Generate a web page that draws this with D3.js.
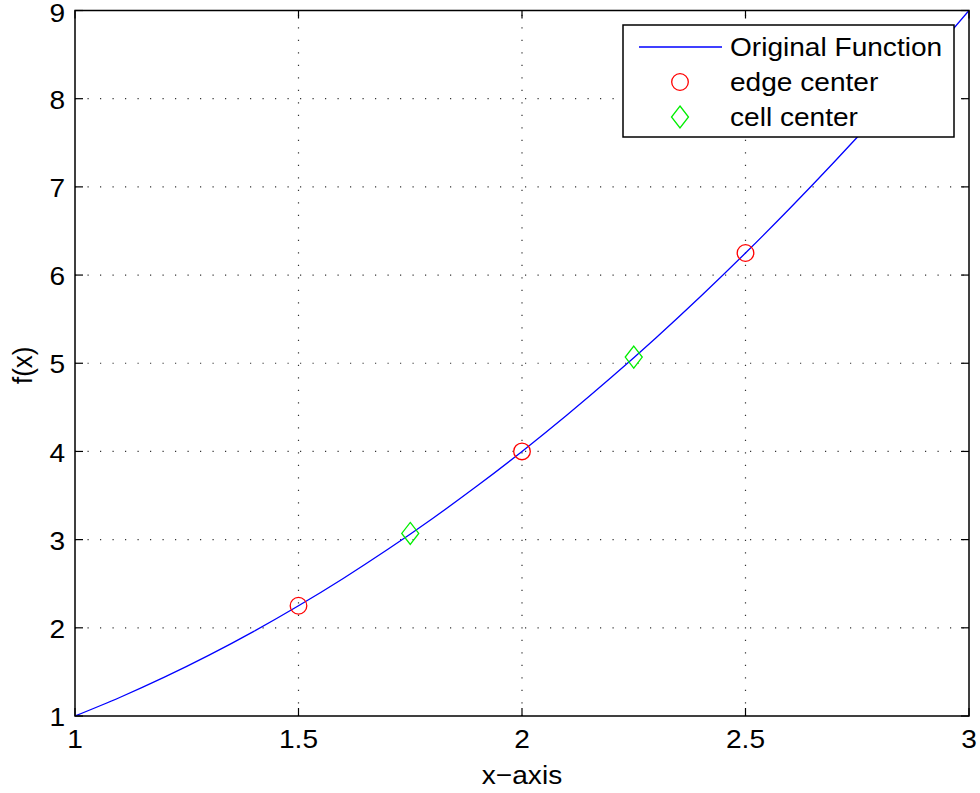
<!DOCTYPE html>
<html>
<head>
<meta charset="utf-8">
<script src="https://cdn.jsdelivr.net/npm/d3@7"></script>
<style>
  html, body { margin: 0; padding: 0; background: #fff; }
  text { font-family: "Liberation Sans", Arial, Helvetica, sans-serif; fill: #000; }
</style>
</head>
<body>
<svg id="chart" width="980" height="793"></svg>
<script>
// Sampled curve f(x) = x^2 over [1, 3]
const curveX = [1.0, 1.1, 1.2, 1.3, 1.4, 1.5, 1.6, 1.7, 1.8, 1.9, 2.0, 2.1, 2.2, 2.3, 2.4, 2.5, 2.6, 2.7, 2.8, 2.9, 3.0];
const curveY = [1.00, 1.21, 1.44, 1.69, 1.96, 2.25, 2.56, 2.89, 3.24, 3.61, 4.00, 4.41, 4.84, 5.29, 5.76, 6.25, 6.76, 7.29, 7.84, 8.41, 9.00];

// Edge-center samples
const edgeX = [1.5, 2.0, 2.5];
const edgeY = [2.25, 4.00, 6.25];

// Cell-center samples
const cellX = [1.75, 2.25];
const cellY = [3.07, 5.07];

// Axis ticks
const xTicks = [1, 1.5, 2, 2.5, 3];
const yTicks = [1, 2, 3, 4, 5, 6, 7, 8, 9];

const legendLabels = ["Original Function", "edge center", "cell center"];

const svg = d3.select("#chart");
const plotL = 75, plotR = 969, plotT = 10.5, plotB = 716;

const x = d3.scaleLinear().domain([1, 3]).range([plotL, plotR]);
const y = d3.scaleLinear().domain([1, 9]).range([plotB, plotT]);

const fontSize = 26;
const stretch = 1.08; // glyphs are drawn a little wider than tall

// Places a text with its anchor at (px, py), widened horizontally
function label(sel, px, py, str, anchor, baseline) {
  return sel.append("text")
    .attr("transform", `translate(${px},${py}) scale(${stretch},1)`)
    .attr("text-anchor", anchor || "start")
    .attr("dominant-baseline", baseline || "auto")
    .attr("font-size", fontSize)
    .text(str);
}

// Dotted grid
const grid = svg.append("g");
grid.selectAll("line.gx").data(xTicks.slice(1, -1)).enter().append("line")
  .attr("x1", d => x(d)).attr("x2", d => x(d))
  .attr("y1", plotB).attr("y2", plotT)
  .attr("stroke", "#333").attr("stroke-width", 1.2)
  .attr("stroke-dasharray", "1.2,11.3");
grid.selectAll("line.gy").data(yTicks.slice(1, -1)).enter().append("line")
  .attr("y1", d => y(d)).attr("y2", d => y(d))
  .attr("x1", plotL).attr("x2", plotR)
  .attr("stroke", "#333").attr("stroke-width", 1.2)
  .attr("stroke-dasharray", "1.2,11.3");

// Inward ticks on all four sides
const tickLen = 8;
const ticks = svg.append("g").attr("stroke", "#000").attr("stroke-width", 1.2);
xTicks.forEach(v => {
  ticks.append("line").attr("x1", x(v)).attr("x2", x(v)).attr("y1", plotB).attr("y2", plotB - tickLen);
  ticks.append("line").attr("x1", x(v)).attr("x2", x(v)).attr("y1", plotT).attr("y2", plotT + tickLen);
});
yTicks.forEach(v => {
  ticks.append("line").attr("y1", y(v)).attr("y2", y(v)).attr("x1", plotL).attr("x2", plotL + tickLen);
  ticks.append("line").attr("y1", y(v)).attr("y2", y(v)).attr("x1", plotR).attr("x2", plotR - tickLen);
});

// Tick labels
const xLab = svg.append("g");
xTicks.forEach(v => label(xLab, x(v), 748, d3.format("~g")(v), "middle"));
const yLab = svg.append("g");
yTicks.forEach(v => label(yLab, 65, Math.max(y(v) + 1.5, 13), String(v), "end", "central"));

// Axis titles
label(svg, (plotL + plotR) / 2, 784, "x\u2212axis", "middle");
svg.append("text")
  .attr("transform", `translate(32,${(plotT + plotB) / 2 + 2}) rotate(-90) scale(1,${stretch})`)
  .attr("text-anchor", "middle").attr("font-size", fontSize).text("f(x)");

// Plot clip
svg.append("clipPath").attr("id", "plotclip").append("rect")
  .attr("x", plotL).attr("y", plotT).attr("width", plotR - plotL).attr("height", plotB - plotT);

// Curve
const lineGen = d3.line().x(d => x(d[0])).y(d => y(d[1])).curve(d3.curveCatmullRom);
svg.append("path").datum(curveX.map((v, i) => [v, curveY[i]]))
  .attr("d", lineGen).attr("fill", "none")
  .attr("stroke", "#0000ff").attr("stroke-width", 1.3)
  .attr("clip-path", "url(#plotclip)");

// Edge-center circles
svg.append("g").selectAll("circle").data(edgeX.map((v, i) => [v, edgeY[i]])).enter().append("circle")
  .attr("cx", d => x(d[0])).attr("cy", d => y(d[1])).attr("r", 8.3)
  .attr("fill", "none").attr("stroke", "#ff0000").attr("stroke-width", 1.3);

// Cell-center diamonds
const diamond = (cx, cy) => `M${cx},${cy - 11} L${cx + 8.5},${cy} L${cx},${cy + 11} L${cx - 8.5},${cy} Z`;
svg.append("g").selectAll("path").data(cellX.map((v, i) => [v, cellY[i]])).enter().append("path")
  .attr("d", d => diamond(x(d[0]), y(d[1])))
  .attr("fill", "none").attr("stroke", "#00ee00").attr("stroke-width", 1.3);

// Plot frame
svg.append("rect").attr("x", plotL).attr("y", plotT)
  .attr("width", plotR - plotL).attr("height", plotB - plotT)
  .attr("fill", "none").attr("stroke", "#000").attr("stroke-width", 1.5);

// Legend
const lg = svg.append("g");
lg.append("rect").attr("x", 623).attr("y", 25).attr("width", 331).attr("height", 112)
  .attr("fill", "#fff").attr("stroke", "#000").attr("stroke-width", 1.5);
const rowY = [47, 82, 117];
lg.append("line").attr("x1", 639).attr("x2", 722).attr("y1", rowY[0]).attr("y2", rowY[0])
  .attr("stroke", "#0000ff").attr("stroke-width", 1.3);
lg.append("circle").attr("cx", 680).attr("cy", rowY[1]).attr("r", 8.3)
  .attr("fill", "none").attr("stroke", "#ff0000").attr("stroke-width", 1.3);
lg.append("path").attr("d", diamond(680, rowY[2]))
  .attr("fill", "none").attr("stroke", "#00ee00").attr("stroke-width", 1.3);
legendLabels.forEach((t, i) => label(lg, 730, rowY[i], t, "start", "central"));
</script>
</body>
</html>
